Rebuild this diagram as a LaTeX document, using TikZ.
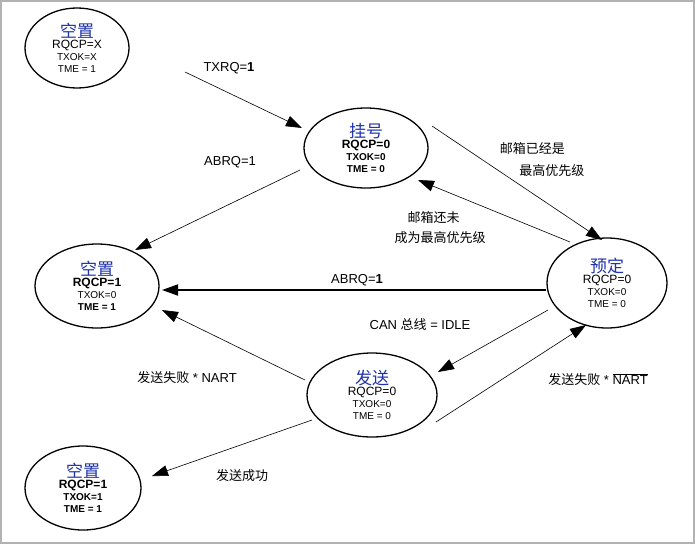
\documentclass[tikz,border=0pt]{standalone}
\usepackage{fontspec}
\setmainfont{Liberation Sans}
\newfontfamily\cjk{Noto Sans CJK SC}
\usetikzlibrary{arrows.meta,shapes.geometric}
\definecolor{ttl}{RGB}{30,50,170}
\begin{document}
\begin{tikzpicture}[x=1pt,y=-1pt,
  st/.style={draw,line width=1.3pt,ellipse},
  t/.style={font=\fontsize{17}{18}\selectfont\cjk\bfseries,text=ttl},
  v/.style={font=\fontsize{12}{15}\selectfont},
  lb/.style={font=\fontsize{13}{15}\selectfont},
  ar/.style={draw,line width=0.6pt,-{Triangle[length=16pt,width=11pt]}}]
\useasboundingbox (0,0) rectangle (695,544);
\draw[gray!60,line width=1.5pt] (1,1) rectangle (694,543);
\newcommand{\st}[6]{%
 \node[st,minimum width=#3,minimum height=#4,inner sep=0pt] (#1) at (#2) {};
 \node[align=center,inner sep=0pt] at (#1.center) {{\usetikzlibrary{}\fontsize{17}{18}\selectfont\cjk\color{ttl}#5}\\[-1pt]\fontsize{12}{15}\selectfont #6};}
\st{e1}{77,48}{104pt}{80pt}{空置}{RQCP=X\\TXOK=X\\TME = 1}
\st{e2}{366,148}{124pt}{80pt}{挂号}{\bfseries RQCP=0\\\bfseries TXOK=0\\\bfseries TME = 0}
\st{e3}{97,286}{124pt}{84pt}{空置}{\bfseries RQCP=1\\TXOK=0\\\bfseries TME = 1}
\st{e4}{607,283}{120pt}{90pt}{预定}{RQCP=0\\TXOK=0\\TME = 0}
\st{e5}{372,395}{130pt}{84pt}{发送}{RQCP=0\\TXOK=0\\TME = 0}
\st{e6}{83,488}{116pt}{84pt}{空置}{\bfseries RQCP=1\\\bfseries TXOK=1\\\bfseries TME = 1}
\coordinate (a1) at (185,72); \coordinate (b1) at (302,128);
\draw[ar] (a1) -- (b1);
\node[lb] at (229,68) {TXRQ=\textbf{1}};
\coordinate (a2) at (300,170); \coordinate (b2) at (135,250);
\draw[ar] (a2) -- (b2);
\node[lb] at (230,162) {ABRQ=1};
\coordinate (a3) at (432,126); \coordinate (b3) at (602,240);
\draw[ar] (a3) -- (b3);
\node[align=left,font=\fontsize{13}{22}\selectfont\cjk] at (542,160) {邮箱已经是\\\hspace*{1.5em}最高优先级};
\coordinate (a4) at (570,242); \coordinate (b4) at (418,180);
\draw[ar] (a4) -- (b4);
\node[align=left,font=\fontsize{13}{20}\selectfont\cjk] at (440,228) {\hspace*{1em}邮箱还未\\成为最高优先级};
\coordinate (a5) at (546,290); \coordinate (b5) at (162,290);
\draw[ar,line width=1.8pt] (a5) -- (b5);
\node[lb] at (357,280) {ABRQ=\textbf{1}};
\coordinate (a6) at (548,310); \coordinate (b6) at (438,372);
\draw[ar] (a6) -- (b6);
\node[lb] at (420,325) {CAN {\cjk 总线} = IDLE};
\coordinate (a7) at (305,380); \coordinate (b7) at (162,310);
\draw[ar] (a7) -- (b7);
\node[lb] at (187,378) {{\cjk 发送失败} * NART};
\coordinate (a8) at (436,422); \coordinate (b8) at (586,325);
\draw[ar] (a8) -- (b8);
\node[lb] at (598,380) {{\cjk 发送失败} * $\overline{\mbox{NART}}$};
\coordinate (a9) at (312,420); \coordinate (b9) at (152,476);
\draw[ar] (a9) -- (b9);
\node[font=\fontsize{13}{15}\selectfont\cjk] at (242,476) {发送成功};
\end{tikzpicture}
\end{document}
